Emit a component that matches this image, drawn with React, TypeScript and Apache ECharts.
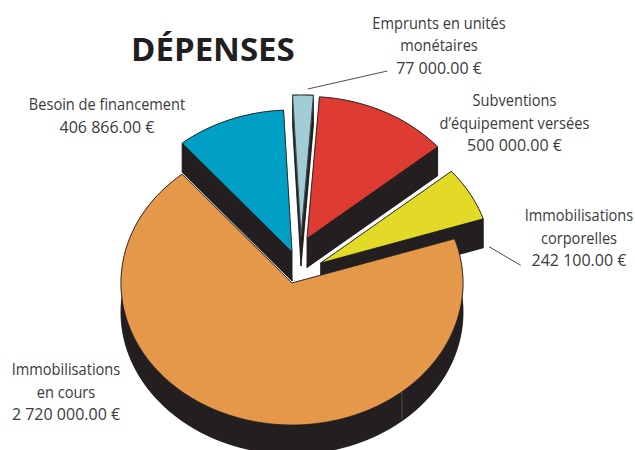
import React, { useEffect, useRef } from "react";
import * as echarts from "echarts";

const titleText = "DÉPENSES";
// clockwise from the first slice, which is also the painting order
const categories = [
  "Immobilisations corporelles",
  "Immobilisations en cours",
  "Besoin de financement",
  "Emprunts en unités monétaires",
  "Subventions d'équipement versées",
];
const values = [242100, 2720000, 406866, 77000, 500000];
const labelLines = [
  ["Immobilisations", "corporelles", "242 100.00 €"],
  ["Immobilisations", "en cours", "2 720 000.00 €"],
  ["Besoin de financement", "406 866.00 €"],
  ["Emprunts en unités", "monétaires", "77 000.00 €"],
  ["Subventions", "d’équipement versées", "500 000.00 €"],
];

const colors = ["#E2DA27", "#E59849", "#00A0C6", "#A2CDD6", "#DE3B33"];
const sliceCentres = [
  [320.7, 263],
  [292, 283],
  [292, 252],
  [301, 237],
  [307, 238.5],
];
const labelCentres = [
  [579, 215],
  [66, 369],
  [107, 104],
  [439, 22.5],
  [514.5, 100],
];
const DARK = "#231F20";
const START_DEG = 49.8;
const RX = 171;
const RY = 142;
const DEPTH = 29;
const TOTAL = values.reduce((a, b) => a + b, 0);

function arc(cx: number, cy: number, a0: number, a1: number) {
  const pts: number[][] = [];
  const n = Math.max(2, Math.ceil((a1 - a0) / 1.5));
  for (let i = 0; i <= n; i++) {
    const t = ((a0 + ((a1 - a0) * i) / n) * Math.PI) / 180;
    pts.push([cx + RX * Math.sin(t), cy - RY * Math.cos(t)]);
  }
  return pts;
}

function renderSlice(params: any, api: any) {
  const i = params.dataIndex;
  let before = 0;
  for (let k = 0; k < i; k++) before += values[k];
  const a0 = START_DEG + (before / TOTAL) * 360;
  const a1 = a0 + (api.value(0) / TOTAL) * 360;
  const [cx, cy] = sliceCentres[i];
  const top = arc(cx, cy, a0, a1);
  const low = top.map(([x, y]) => [x, y + DEPTH]);
  const side = { fill: DARK, stroke: DARK, lineWidth: 0.5 };
  const first = top[0];
  const last = top[top.length - 1];
  const children: any[] = [
    { type: "polygon", shape: { points: [[cx, cy + DEPTH], ...low] }, style: side },
    { type: "polygon", shape: { points: [...top, ...[...low].reverse()] }, style: side },
    { type: "polygon", shape: { points: [[cx, cy], first, [first[0], first[1] + DEPTH], [cx, cy + DEPTH]] }, style: side },
    { type: "polygon", shape: { points: [[cx, cy], last, [last[0], last[1] + DEPTH], [cx, cy + DEPTH]] }, style: side },
    {
      type: "polygon",
      shape: { points: [[cx, cy], ...top] },
      style: { fill: colors[i], stroke: i === 3 ? "#3f4a4e" : DARK, lineWidth: i === 3 ? 1.2 : 0.8, lineJoin: "miter" },
    },
  ];
  if (i === 1) {
    // thin seam on the dark rim of the large slice
    const s = (140 * Math.PI) / 180;
    const x = cx + RX * Math.sin(s);
    const y = cy - RY * Math.cos(s);
    children.push({
      type: "line",
      shape: { x1: x, y1: y, x2: x, y2: y + DEPTH - 1 },
      style: { stroke: "#6b5a45", lineWidth: 0.7 },
    });
  }
  return { type: "group", children };
}

export default function App() {
  const ref = useRef<HTMLDivElement>(null);
  useEffect(() => {
    const chart = echarts.init(ref.current!, undefined, { renderer: "svg", width: 635, height: 450 });
    const labelGraphics = labelLines.flatMap((lines, i) =>
      lines.map((text, j) => ({
        type: "text",
        x: labelCentres[i][0],
        y: labelCentres[i][1] + j * 22.5,
        scaleX: /\d/.test(text) ? 0.97 : 0.885,
        style: {
          text,
          fill: "#3c3a3b",
          font: '16.5px "Open Sans", sans-serif',
          textAlign: "center",
          textVerticalAlign: "middle",
        },
      }))
    );
    chart.setOption({
      animation: false,
      backgroundColor: "#ffffff",
      title: {
        text: titleText,
        left: 126,
        top: 27,
        textStyle: { color: DARK, fontFamily: '"Open Sans", sans-serif', fontWeight: 700, fontSize: 33 },
      },
      series: [
        {
          type: "custom",
          coordinateSystem: "none",
          renderItem: renderSlice,
          data: values.map((v, i) => ({ name: categories[i], value: [v] })),
          silent: true,
        },
      ],
      graphic: [
        ...labelGraphics,
        {
          type: "line",
          shape: { x1: 307.7, y1: 89, x2: 387.3, y2: 71 },
          style: { stroke: DARK, lineWidth: 0.8 },
        },
        {
          type: "line",
          shape: { x1: 489, y1: 246.7, x2: 520.7, y2: 265.3 },
          style: { stroke: DARK, lineWidth: 0.8 },
        },
      ],
    });
    return () => chart.dispose();
  }, []);
  return (
    <div
      ref={ref}
      style={{ position: "absolute", left: 0, top: 0, width: 635, height: 450, overflow: "hidden" }}
    />
  );
}
